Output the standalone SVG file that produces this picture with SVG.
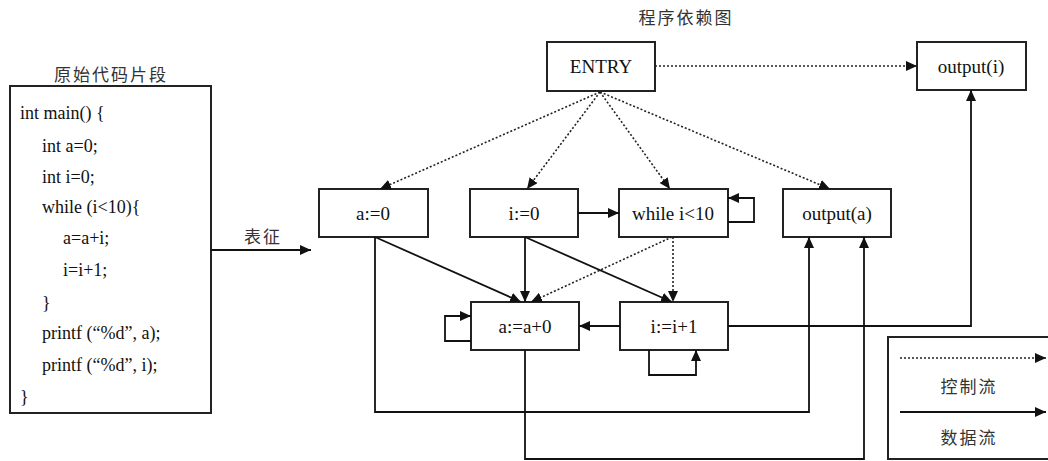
<svg xmlns="http://www.w3.org/2000/svg" width="1048" height="461" viewBox="0 0 1048 461">
<style>
.box{fill:#fff;stroke:#222;stroke-width:2}
.lbl{font-family:"Liberation Serif","Times New Roman",serif;font-size:19px;fill:#111;text-anchor:middle}
.code{font-family:"Liberation Serif","Times New Roman",serif;font-size:18px;fill:#111}
.cn{font-family:"Noto Sans CJK SC",sans-serif;font-size:17px;fill:#333;text-anchor:middle;letter-spacing:2px}
.data{fill:none;stroke:#111;stroke-width:1.8;marker-end:url(#ah)}
.ctrl{fill:none;stroke:#222;stroke-width:1.6;stroke-dasharray:2 2;marker-end:url(#ah)}
.plain{fill:none;stroke:#111;stroke-width:1.8}
</style>
<defs>
<marker id="ah" markerUnits="userSpaceOnUse" markerWidth="12" markerHeight="10" refX="11" refY="5" orient="auto">
<path d="M0,0 L11,5 L0,10 Z" fill="#111"/>
</marker>
</defs>
<rect width="1048" height="461" fill="#fff"/>

<g id="code-snippet">
<text class="cn" x="111" y="81">原始代码片段</text>
<rect class="box" x="10" y="86" width="201" height="327"/>
<text class="code" x="20" y="119">int main() {</text>
<text class="code" x="42" y="152">int a=0;</text>
<text class="code" x="42" y="183">int i=0;</text>
<text class="code" x="42" y="213">while (i&lt;10){</text>
<text class="code" x="63" y="244">a=a+i;</text>
<text class="code" x="63" y="276">i=i+1;</text>
<text class="code" x="42" y="309">}</text>
<text class="code" x="42" y="339">printf (“%d”, a);</text>
<text class="code" x="42" y="371">printf (“%d”, i);</text>
<text class="code" x="20" y="403">}</text>
</g>

<g id="title-pdg"><text class="cn" x="686" y="24">程序依赖图</text></g>

<g id="transform">
<text class="cn" x="263" y="243">表征</text>
</g>

<g id="n-entry"><rect class="box" x="547" y="42" width="108" height="49"/><text class="lbl" x="601" y="73">ENTRY</text></g>
<g id="n-outi"><rect class="box" x="917" y="42" width="109" height="48"/><text class="lbl" x="971" y="73">output(i)</text></g>
<g id="n-a0"><rect class="box" x="319" y="189" width="109" height="48"/><text class="lbl" x="373" y="220">a:=0</text></g>
<g id="n-i0"><rect class="box" x="470" y="189" width="108" height="48"/><text class="lbl" x="524" y="220">i:=0</text></g>
<g id="n-while"><rect class="box" x="619" y="189" width="109" height="48"/><text class="lbl" x="673" y="220">while i&lt;10</text></g>
<g id="n-outa"><rect class="box" x="783" y="189" width="108" height="48"/><text class="lbl" x="837" y="220">output(a)</text></g>
<g id="n-aa0"><rect class="box" x="471" y="302" width="108" height="48"/><text class="lbl" x="525" y="333">a:=a+0</text></g>
<g id="n-ii1"><rect class="box" x="620" y="302" width="108" height="48"/><text class="lbl" x="674" y="333">i:=i+1</text></g>

<g id="legend">
<rect class="box" x="888" y="337" width="170" height="122"/>
<path class="ctrl" d="M900,358 H1046"/>
<text class="cn" x="969" y="393">控制流</text>
<path class="data" d="M900,412 H1046"/>
<text class="cn" x="969" y="444">数据流</text>
</g>

<g id="connectors">
<path class="data" d="M211,250 H311"/>
<path class="ctrl" d="M600,92 L380,189"/>
<path class="ctrl" d="M600,92 L527,189"/>
<path class="ctrl" d="M600,92 L670,189"/>
<path class="ctrl" d="M600,92 L830,189"/>
<path class="ctrl" d="M655,66 H917"/>
<path class="data" d="M578,213 H619"/>
<path class="data" d="M728,222 H754 V198 H728"/>
<path class="data" d="M375,237 L521,302"/>
<path class="data" d="M525,237 V302"/>
<path class="data" d="M525,237 L672,302"/>
<path class="ctrl" d="M672,237 L531,302"/>
<path class="ctrl" d="M673,237 V302"/>
<path class="data" d="M620,326 H579"/>
<path class="data" d="M471,341 H445 V316 H471"/>
<path class="data" d="M649,350 V375 H696 V350"/>
<path class="data" d="M728,326 H971 V90"/>
<path class="data" d="M375,237 V412 H809 V237"/>
<path class="data" d="M525,350 V459 H864 V237"/>
</g>
</svg>
